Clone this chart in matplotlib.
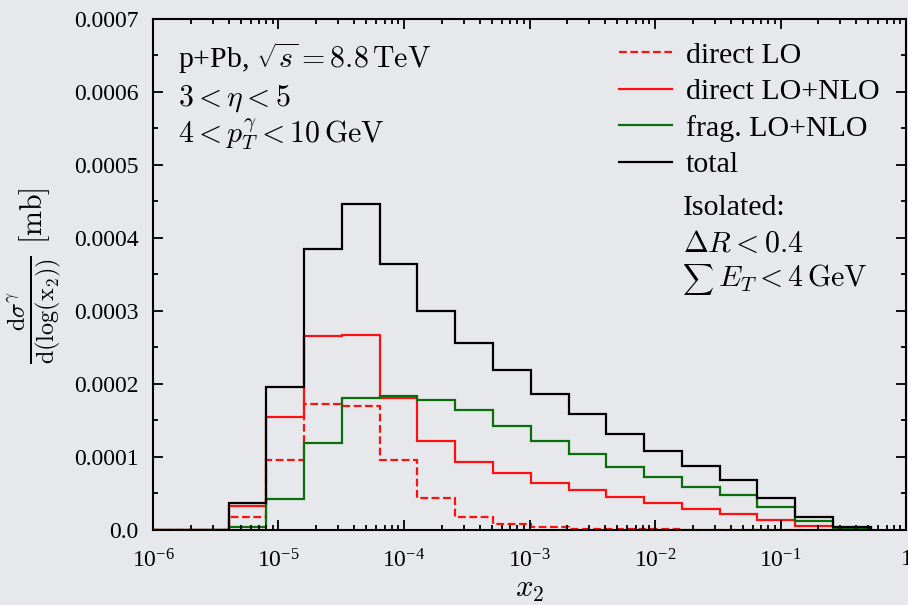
import numpy as np
import matplotlib
matplotlib.use("Agg")
import matplotlib.pyplot as plt
from matplotlib.ticker import FixedLocator, FixedFormatter, LogLocator, NullFormatter, MultipleLocator
from matplotlib.lines import Line2D

# ---- data ----
edges = [1e-6 * 2**n for n in range(20)]
direct_LO = [0, 0, 0.0000177, 0.0000959, 0.0001723, 0.0001696, 0.0000955, 0.0000432,
             0.0000177, 0.0000082, 0.0000037, 0.0000020, 0.0000012, 0.0000007,
             0.0000004, 0.0000002, 0.0000001, 0.00000005, 0.0]
direct_NLO = [0, 0, 0.0000332, 0.0001546, 0.000266, 0.000267, 0.000181, 0.000122,
              0.0000932, 0.0000782, 0.000065, 0.0000546, 0.0000446, 0.0000364,
              0.0000286, 0.0000218, 0.0000136, 0.0000059, 0.0000015]
frag_NLO = [0, 0, 0.0000045, 0.0000423, 0.0001196, 0.000181, 0.000184, 0.000178,
            0.0001637, 0.0001419, 0.0001219, 0.0001037, 0.0000864, 0.0000719,
            0.0000587, 0.0000477, 0.000031, 0.0000127, 0.0000027]
total = [0, 0, 0.0000372, 0.0001965, 0.000385, 0.0004466, 0.000365, 0.0003,
         0.000256, 0.0002196, 0.0001865, 0.0001583, 0.000131, 0.0001078,
         0.0000882, 0.0000682, 0.0000441, 0.0000182, 0.0000045]
series_labels = ["direct LO", "direct LO+NLO", "frag. LO+NLO", "total"]
yticks = [0.0, 0.0001, 0.0002, 0.0003, 0.0004, 0.0005, 0.0006, 0.0007]
ytick_labels = ["0.0", "0.0001", "0.0002", "0.0003", "0.0004", "0.0005", "0.0006", "0.0007"]
xticks = [1e-6, 1e-5, 1e-4, 1e-3, 1e-2, 1e-1, 1]
xtick_labels = [r"$\mathregular{10^{-6}}$", r"$\mathregular{10^{-5}}$", r"$\mathregular{10^{-4}}$",
                r"$\mathregular{10^{-3}}$", r"$\mathregular{10^{-2}}$", r"$\mathregular{10^{-1}}$",
                r"$\mathregular{1}$"]

plt.rcParams['font.family'] = ['Liberation Serif', 'DejaVu Serif']
plt.rcParams['mathtext.fontset'] = 'cm'

bg = '#e6e8ec'
fig = plt.figure(figsize=(9.08, 6.05), dpi=100, facecolor=bg)
ax = fig.add_axes([0.1685, 0.124, 0.8293, 0.8446])
ax.set_facecolor(bg)

red = '#ff1010'
green = '#0a6e0a'
dash = (0, (3.5, 1.6))
lw = 1.6
ax.stairs(direct_LO, edges, baseline=0, color=red, lw=lw, linestyle=dash)
ax.stairs(direct_NLO, edges, baseline=0, color=red, lw=lw)
ax.stairs(frag_NLO, edges, baseline=0, color=green, lw=lw)
ax.stairs(total, edges, baseline=0, color='black', lw=lw)

ax.set_xscale('log')
ax.set_xlim(1e-6, 1)
ax.set_ylim(0, 0.0007)
ax.xaxis.set_major_locator(FixedLocator(xticks))
ax.xaxis.set_major_formatter(FixedFormatter(xtick_labels))
ax.xaxis.set_minor_locator(LogLocator(base=10, subs=np.arange(2, 10), numticks=20))
ax.xaxis.set_minor_formatter(NullFormatter())
ax.yaxis.set_major_locator(FixedLocator(yticks))
ax.yaxis.set_major_formatter(FixedFormatter(ytick_labels))
ax.yaxis.set_minor_locator(MultipleLocator(0.00005))

ax.tick_params(which='both', direction='in', top=True, right=True, width=1.3, labelsize=17)
ax.tick_params(which='major', length=7)
ax.tick_params(which='minor', length=3.5)
ax.tick_params(axis='x', pad=14)
ax.tick_params(axis='y', pad=10.5)
for s in ax.spines.values():
    s.set_linewidth(1.5)

ax.set_xlabel(r"$x_2$", fontsize=22, labelpad=2)

# y label: fraction slightly larger than the unit, as in the reference
fig.text(0.038, 1 - 310 / 605, r"$\frac{\mathrm{d}\sigma^{\gamma}}{\mathrm{d}(\log(\mathrm{x_2}))}$",
         rotation=90, fontsize=25, ha='center', va='center')
fig.text(0.038, 1 - 216 / 605, r"$[\mathrm{mb}]$", rotation=90, fontsize=21.5, ha='center', va='center')

fs = 21.5
ax.text(0.033, 0.904, r"p+Pb, $\sqrt{s} = 8.8\,\mathrm{TeV}$", transform=ax.transAxes, fontsize=fs, va='baseline')
ax.text(0.033, 0.830, r"$3 < \eta < 5$", transform=ax.transAxes, fontsize=fs, va='baseline')
ax.text(0.033, 0.759, r"$4 < p_T^{\gamma} < 10\,\mathrm{GeV}$", transform=ax.transAxes, fontsize=fs, va='baseline')

handles = [Line2D([], [], color=red, lw=lw, linestyle=dash),
           Line2D([], [], color=red, lw=lw),
           Line2D([], [], color=green, lw=lw),
           Line2D([], [], color='black', lw=lw)]
ax.legend(handles, series_labels, loc='upper left', bbox_to_anchor=(0.619, 0.955), frameon=False,
          fontsize=fs, handlelength=1.77, handletextpad=0.47, labelspacing=0.32,
          borderaxespad=0, borderpad=0)

ax.text(0.704, 0.616, "Isolated:", transform=ax.transAxes, fontsize=fs, va='baseline')
ax.text(0.704, 0.544, r"$\Delta R < 0.4$", transform=ax.transAxes, fontsize=fs, va='baseline')
ax.text(0.703, 0.476, r"$\sum$", transform=ax.transAxes, fontsize=15.5, va='baseline')
ax.text(0.750, 0.476, r"$E_T < 4\,\mathrm{GeV}$", transform=ax.transAxes, fontsize=fs, va='baseline')

fig.savefig("out.png", dpi=100, facecolor=bg)
